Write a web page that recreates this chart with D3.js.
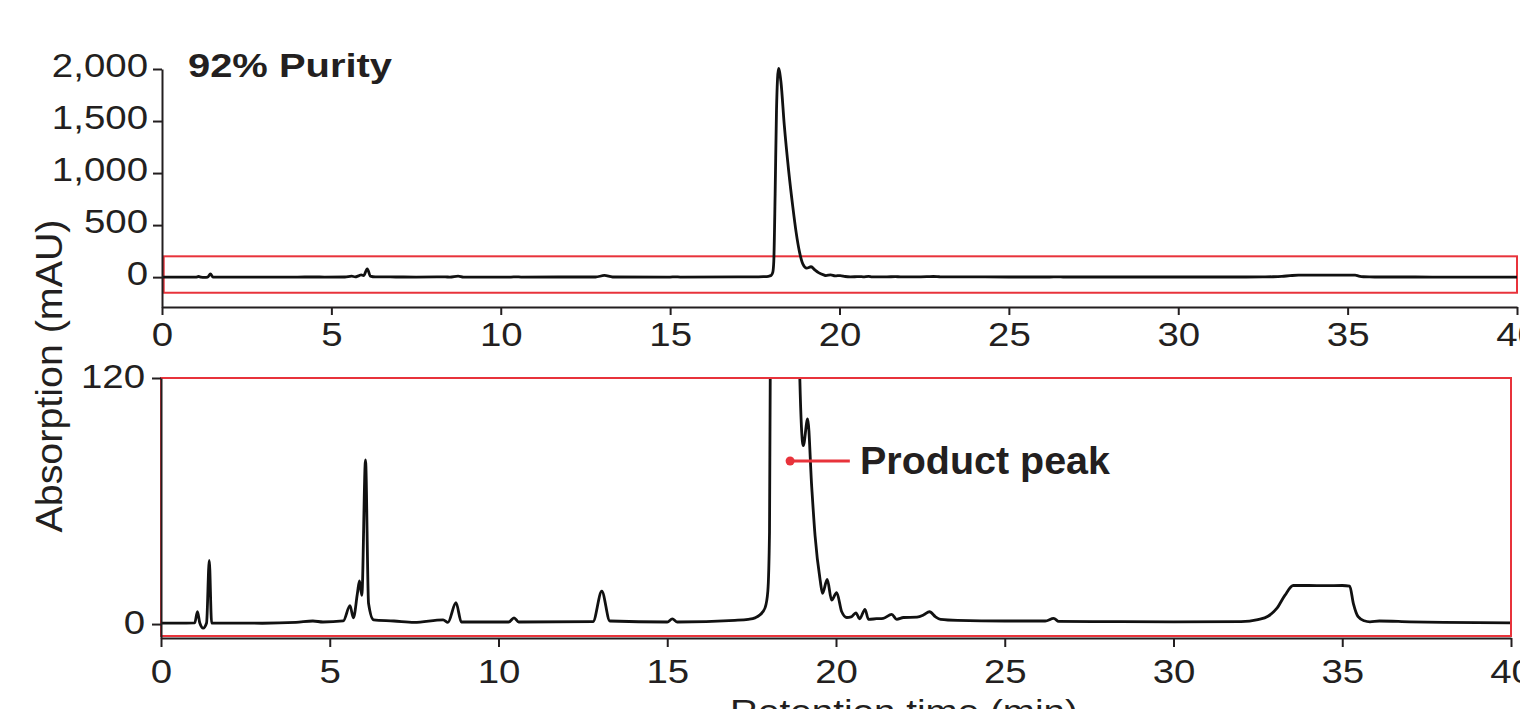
<!DOCTYPE html>
<html lang="en">
<head>
<meta charset="utf-8">
<title>HPLC chromatogram - 92% purity</title>
<script src="https://cdn.jsdelivr.net/npm/d3@7"></script>
<style>
  body { margin: 0; background: #fff; }
  svg text { font-family: "Liberation Sans", Arial, Helvetica, sans-serif; fill: #231f20; }
  .axis path, .axis line { stroke: #231f20; stroke-width: 2; }
</style>
</head>
<body>
<script>

// retention time (min) and absorption (mAU)
var times = [0, 0.5, 1.0, 1.08, 1.15, 1.25, 1.35, 1.43, 1.5, 2, 3, 4.0, 4.5, 4.8, 5.4, 5.6, 5.7, 5.82, 5.88, 5.95, 6.06, 6.15, 6.3, 6.9, 7.5, 8.36, 8.5, 8.74, 8.9, 10.3, 10.46, 10.6, 12.8, 13.06, 13.3, 15.0, 15.15, 15.3,
  17.0, 17.4, 17.6, 17.75, 17.9, 17.98, 18.03, 18.06, 18.1, 18.14, 18.2, 18.27, 18.37, 18.5, 18.62, 18.72, 18.82, 18.92, 19.03, 19.16, 19.28, 19.38, 19.53, 19.6, 19.74, 19.87, 20.02, 20.17, 20.32, 20.45, 20.59, 20.7, 20.86, 20.96, 21.2, 21.4, 21.65, 21.8, 22.0, 22.4, 22.6, 22.77, 22.95, 23.1, 23.6,
  25, 26.2, 26.45, 26.6, 28, 30, 32, 32.5, 32.8, 33.06, 33.3, 33.55, 34.0, 34.5, 35.0, 35.22, 35.33, 35.47, 35.65, 35.82, 36.1, 37, 38, 40];
var absorb = [0.5, 0.5, 0.6, 6, 0.5, -2, 0.5, 31, 0.5, 0.5, 0.4, 0.8, 1.5, 1, 1.5, 9, 3, 15, 21, 14, 80, 10, 2, 1.5, 0.8, 2, 0.8, 10.4, 1, 1, 3, 1, 1.2, 16, 1.5, 1, 2.5, 1,
  1.8, 2.3, 3, 4.5, 8, 16, 45, 150, 800, 1600, 2005, 1880, 1460, 1020, 680, 430, 240, 125, 87, 100, 67, 43, 21.5, 15, 21.8, 11.7, 15.3, 6, 3.2, 3.5, 5.5, 2.6, 7.2, 2.3, 2.6, 2.8, 4.7, 2.3, 3.2, 3.4, 4.5, 6, 3.5, 2.3, 1.8,
  1.5, 1.5, 2.8, 1.3, 1.2, 1.1, 1.2, 2.2, 3.8, 7.6, 14, 18.8, 18.8, 18.7, 18.8, 18.5, 10, 3.6, 1.6, 1.1, 1.5, 1.1, 0.8, 0.6];

var timeTicks = [0, 5, 10, 15, 20, 25, 30, 35, 40];
var fullTicks = [0, 500, 1000, 1500, 2000];
var zoomTicks = [0, 120];
var fullRange = [-287, 2000];
var zoomRange = [-6.8, 120];
var zoomBox = [-150, 200];        // window of the top trace shown below
var productPeak = [18.64, 79.5, 20.41];

var red = "#e8333b";
var ink = "#231f20";

var data = times.map(function(t, i) { return { t: t, v: absorb[i] }; });

var w = 1520, h = 709;
var svg = d3.select("body").append("svg").attr("width", w).attr("height", h);

// stretch text horizontally a little, the figure's type is wide
function widen(sel, k) {
  sel.each(function() {
    var len = this.getComputedTextLength();
    d3.select(this).attr("textLength", len * k).attr("lengthAdjust", "spacingAndGlyphs");
  });
}

// ---- top panel: full scale
var x1 = d3.scaleLinear().domain([0, 40]).range([162, 1517]);
var y1 = d3.scaleLinear().domain(fullRange).range([307, 69]);

var line1 = d3.line().x(function(d) { return x1(d.t); }).y(function(d) { return y1(d.v); }).curve(d3.curveMonotoneX);

svg.append("rect")
  .attr("x", x1(0.05)).attr("y", y1(zoomBox[1]))
  .attr("width", x1(40) - x1(0.05)).attr("height", y1(zoomBox[0]) - y1(zoomBox[1]))
  .attr("fill", "none").attr("stroke", red).attr("stroke-width", 2);

svg.append("path").datum(data)
  .attr("d", line1).attr("fill", "none").attr("stroke", "#111").attr("stroke-width", 2.8)
  .attr("stroke-linejoin", "round");

var ay1 = svg.append("g").attr("class", "axis").attr("transform", "translate(162,0)")
  .call(d3.axisLeft(y1).tickValues(fullTicks).tickFormat(d3.format(",")).tickSize(9).tickPadding(5).tickSizeOuter(0));
var ax1 = svg.append("g").attr("class", "axis").attr("transform", "translate(0,307)")
  .call(d3.axisBottom(x1).tickValues(timeTicks).tickSize(8).tickPadding(7).tickSizeOuter(0));

// ---- bottom panel: zoomed
var x2 = d3.scaleLinear().domain([0, 40]).range([161, 1511]);
var y2 = d3.scaleLinear().domain(zoomRange).range([638, 378]);

var line2 = d3.line().x(function(d) { return x2(d.t); }).y(function(d) { return y2(d.v); }).curve(d3.curveMonotoneX);

svg.append("clipPath").attr("id", "zclip").append("rect")
  .attr("x", x2(0)).attr("y", y2(120)).attr("width", x2(40) - x2(0)).attr("height", y2(zoomRange[0]) - y2(120));

svg.append("path").datum(data)
  .attr("clip-path", "url(#zclip)")
  .attr("d", line2).attr("fill", "none").attr("stroke", "#111").attr("stroke-width", 2.8)
  .attr("stroke-linejoin", "round");

svg.append("rect")
  .attr("x", x2(0)).attr("y", y2(120))
  .attr("width", x2(40) - x2(0)).attr("height", y2(zoomRange[0]) - y2(120) - 2)
  .attr("fill", "none").attr("stroke", red).attr("stroke-width", 2);

var ay2 = svg.append("g").attr("class", "axis").attr("transform", "translate(161,0)")
  .call(d3.axisLeft(y2).tickValues(zoomTicks).tickSize(9).tickPadding(7).tickSizeOuter(0));
var ax2 = svg.append("g").attr("class", "axis").attr("transform", "translate(0,638)")
  .call(d3.axisBottom(x2).tickValues(timeTicks).tickSize(9).tickPadding(12).tickSizeOuter(0));

svg.selectAll(".axis text").attr("font-size", 34).style("fill", ink);
ay1.selectAll("text").attr("dy", "0.22em");
ay2.selectAll("text").attr("dy", "0.28em");
widen(svg.selectAll(".axis text"), 1.13);

// product peak marker
svg.append("line")
  .attr("x1", x2(productPeak[0])).attr("y1", y2(productPeak[1]))
  .attr("x2", x2(productPeak[2])).attr("y2", y2(productPeak[1]))
  .attr("stroke", red).attr("stroke-width", 3);
svg.append("circle")
  .attr("cx", x2(productPeak[0])).attr("cy", y2(productPeak[1])).attr("r", 4.5)
  .attr("fill", red);
svg.append("text")
  .attr("x", 860).attr("y", 474)
  .attr("font-size", 39).attr("font-weight", "bold")
  .attr("textLength", 250).attr("lengthAdjust", "spacingAndGlyphs")
  .text("Product peak");

// titles
svg.append("text")
  .attr("x", 188).attr("y", 77)
  .attr("font-size", 34).attr("font-weight", "bold")
  .attr("textLength", 204).attr("lengthAdjust", "spacingAndGlyphs")
  .text("92% Purity");

svg.append("text")
  .attr("transform", "translate(62,376) rotate(-90)")
  .attr("text-anchor", "middle")
  .attr("font-size", 36)
  .attr("textLength", 313).attr("lengthAdjust", "spacingAndGlyphs")
  .text("Absorption (mAU)");

svg.append("text")
  .attr("x", 904).attr("y", 723)
  .attr("text-anchor", "middle")
  .attr("font-size", 34)
  .attr("textLength", 348).attr("lengthAdjust", "spacingAndGlyphs")
  .text("Retention time (min)");

</script>
</body>
</html>
